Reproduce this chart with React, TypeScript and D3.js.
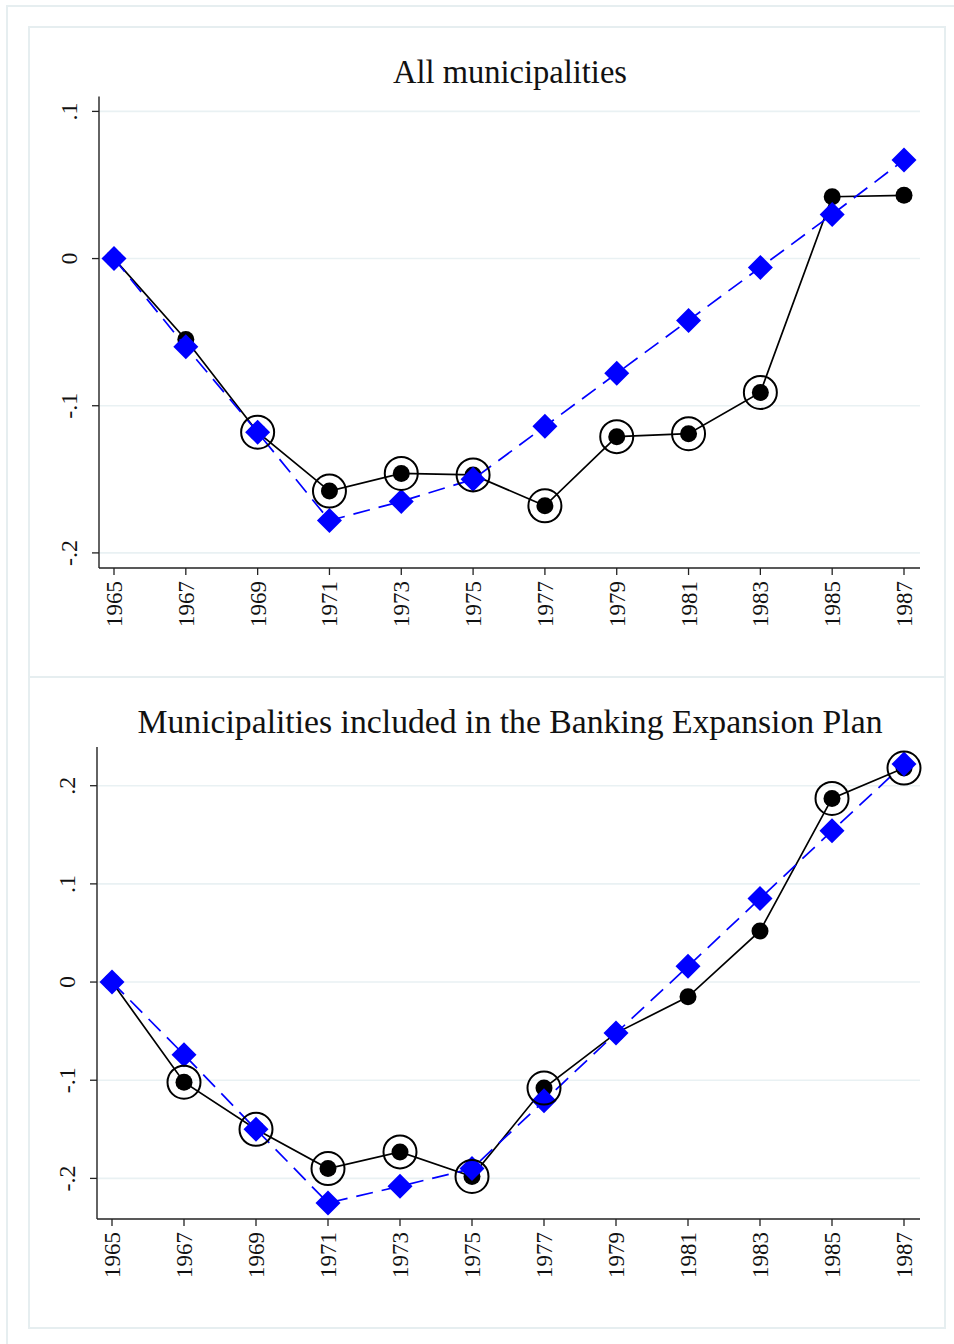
import React from "react";
import * as d3 from "d3";

const years = [1965, 1967, 1969, 1971, 1973, 1975, 1977, 1979, 1981, 1983, 1985, 1987];
const allBlack = [0, -0.055, -0.118, -0.158, -0.146, -0.147, -0.168, -0.121, -0.119, -0.091, 0.042, 0.043];
const allBlue = [0, -0.06, -0.118, -0.178, -0.165, -0.15, -0.114, -0.078, -0.042, -0.006, 0.03, 0.067];
const allSig = [false, false, true, true, true, true, true, true, true, true, false, false];
const bepBlack = [0, -0.102, -0.15, -0.19, -0.173, -0.198, -0.108, -0.052, -0.015, 0.052, 0.187, 0.218];
const bepBlue = [0, -0.074, -0.15, -0.225, -0.208, -0.19, -0.121, -0.052, 0.016, 0.085, 0.154, 0.222];
const bepSig = [false, true, true, true, true, true, true, false, false, false, true, true];

const allTicks = [0.1, 0, -0.1, -0.2];
const bepTicks = [0.2, 0.1, 0, -0.1, -0.2];
const fmt = (v: number) => (v === 0 ? "0" : (v < 0 ? "-" : "") + String(Math.abs(v)).replace(/^0/, ""));

const FONT = "'Liberation Serif', 'DejaVu Serif', serif";
const GRID = "#e9f1f3";
const FRAME = "#e6eef0";

type PanelProps = {
  title: string;
  titleLen: number;
  black: number[];
  blue: number[];
  sig: boolean[];
  ticks: number[];
  xRange: [number, number];
  axisX: number;
  axisTop: number;
  axisBottom: number;
  yDomain: [number, number];
  yRange: [number, number];
  titleY: number;
};

function Panel(p: PanelProps) {
  const x = d3.scaleLinear().domain([1965, 1987]).range(p.xRange);
  const y = d3.scaleLinear().domain(p.yDomain).range(p.yRange);
  const right = 920;
  const line = d3
    .line<number>()
    .x((_, i) => x(years[i]))
    .y((d) => y(d));
  return (
    <g>
      <text
        x={510}
        y={p.titleY}
        textAnchor="middle"
        fontFamily={FONT}
        fontSize={33}
        textLength={p.titleLen}
        lengthAdjust="spacingAndGlyphs"
        fill="#111"
      >
        {p.title}
      </text>
      {p.ticks.map((t) => (
        <line key={"g" + t} x1={p.axisX + 1} x2={right} y1={y(t)} y2={y(t)} stroke={GRID} strokeWidth={1.6} />
      ))}
      <line x1={p.axisX} x2={p.axisX} y1={p.axisTop} y2={p.axisBottom} stroke="#222" strokeWidth={1.4} />
      <line x1={p.axisX} x2={right} y1={p.axisBottom} y2={p.axisBottom} stroke="#222" strokeWidth={1.4} />
      {p.ticks.map((t) => (
        <g key={"t" + t}>
          <line x1={p.axisX - 7} x2={p.axisX} y1={y(t)} y2={y(t)} stroke="#222" strokeWidth={1.3} />
          <text
            transform={`translate(${p.axisX - 22},${y(t)}) rotate(-90)`}
            textAnchor="middle"
            fontFamily={FONT}
            fontSize={24}
            fill="#111"
          >
            {fmt(t)}
          </text>
        </g>
      ))}
      {years.map((yr) => (
        <g key={"x" + yr}>
          <line x1={x(yr)} x2={x(yr)} y1={p.axisBottom} y2={p.axisBottom + 7} stroke="#222" strokeWidth={1.3} />
          <text
            transform={`translate(${x(yr) + 8},${p.axisBottom + 13}) rotate(-90)`}
            textAnchor="end"
            fontFamily={FONT}
            fontSize={23}
            fill="#111"
          >
            {yr}
          </text>
        </g>
      ))}
      <path d={line(p.black) || ""} fill="none" stroke="#000" strokeWidth={1.7} />
      {p.black.map((v, i) => (
        <circle key={"b" + i} cx={x(years[i])} cy={y(v)} r={8.5} fill="#000" />
      ))}
      <path d={line(p.blue) || ""} fill="none" stroke="#0000ff" strokeWidth={1.7} strokeDasharray="17 9" />
      {p.blue.map((v, i) => {
        const cx = x(years[i]);
        const cy = y(v);
        const s = 12.5;
        return (
          <path key={"d" + i} d={`M${cx},${cy - s}L${cx + s},${cy}L${cx},${cy + s}L${cx - s},${cy}Z`} fill="#0000ff" />
        );
      })}
      {p.black.map((v, i) =>
        p.sig[i] ? (
          <circle key={"s" + i} cx={x(years[i])} cy={y(v)} r={16.5} fill="none" stroke="#000" strokeWidth={2} />
        ) : null
      )}
    </g>
  );
}

export default function App() {
  return (
    <svg
      width={954}
      height={1344}
      style={{ position: "absolute", left: 0, top: 0, background: "#fff" }}
    >
      <rect x={0} y={0} width={954} height={1344} fill="#fff" />
      <rect x={7} y={6} width={960} height={1360} fill="none" stroke={FRAME} strokeWidth={2} />
      <rect x={29} y={27} width={916} height={650} fill="none" stroke={FRAME} strokeWidth={2} />
      <rect x={29} y={677} width={916} height={651} fill="none" stroke={FRAME} strokeWidth={2} />
      <Panel
        title="All municipalities"
        titleLen={234}
        black={allBlack}
        blue={allBlue}
        sig={allSig}
        ticks={allTicks}
        xRange={[114, 904]}
        axisX={99}
        axisTop={96.5}
        axisBottom={568}
        yDomain={[0.1, -0.2]}
        yRange={[111.4, 552.9]}
        titleY={83}
      />
      <Panel
        title="Municipalities included in the Banking Expansion Plan"
        titleLen={745}
        black={bepBlack}
        blue={bepBlue}
        sig={bepSig}
        ticks={bepTicks}
        xRange={[112, 904]}
        axisX={97}
        axisTop={747}
        axisBottom={1219}
        yDomain={[0.2, -0.2]}
        yRange={[785.7, 1178.4]}
        titleY={733}
      />
    </svg>
  );
}
